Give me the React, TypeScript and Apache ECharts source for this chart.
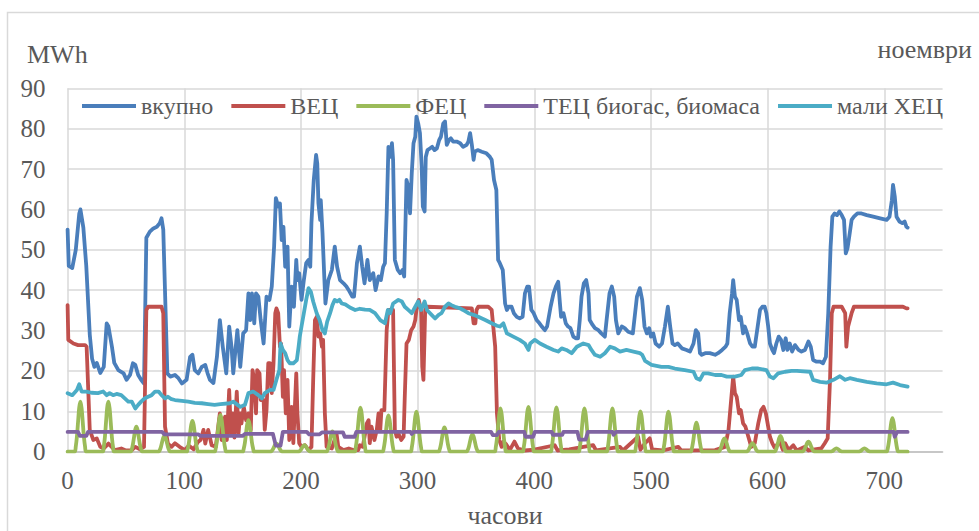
import React, { useEffect, useRef } from "react";
import * as echarts from "echarts";

// Hourly production for November (hour of month, MWh)
const seriesNames = ["вкупно", "ВЕЦ", "ФЕЦ", "ТЕЦ биогас, биомаса", "мали ХЕЦ"];
const seriesColors = ["#4a7ebb", "#c0504d", "#9bbb59", "#8064a2", "#4bacc6"];

const xTicks = [0, 100, 200, 300, 400, 500, 600, 700];
const yTicks = [0, 10, 20, 30, 40, 50, 60, 70, 80, 90];

const total: number[][] = [
  [0, 55], [1, 46], [4, 45.5], [7, 50], [10, 59], [11, 60], [13.5, 55.5], [16, 46], [19, 29], [21, 23],
  [23, 21], [25, 22], [28, 19.5], [31, 21], [33.5, 31.8], [35, 31], [38, 26], [40, 22], [43.5, 20.2],
  [48, 19.4], [50.5, 17.8], [53.5, 19], [56, 21.9], [58, 21.5], [60.5, 19], [63, 17.8], [65.5, 16.9],
  [67.5, 53], [70.5, 54.5], [73.5, 55.3], [76.5, 55.7], [79, 56.6], [80.5, 57.8], [82, 55], [85.5, 19.4],
  [88, 18.6], [92, 19], [95, 18.2], [98, 16.9], [102, 17.8], [105, 23.5], [107, 24], [109, 20.2],
  [112, 19.4], [115, 21], [118, 21.5], [120, 19.4], [122, 17.8], [125, 17], [128, 23.5], [130.5, 32.6],
  [133, 26], [136, 19.4], [138.5, 31], [140.5, 26], [142, 19.4], [145.5, 30.1], [148, 21], [150.5, 29.3],
  [153, 30.1], [155, 39.2], [156.5, 32.6], [158, 39.2], [160, 31.8], [161.5, 39.2], [163.5, 38.4],
  [165.5, 32.6], [168, 26.8], [170.5, 38.4], [173, 37.6], [175, 40.9], [177, 50.8], [178.5, 62.8],
  [180.5, 60.7], [182, 61.5], [183.5, 52.4], [185, 55.7], [186.5, 45.8], [188.5, 50.8], [190, 31],
  [192, 40.9], [194, 35.9], [196, 47.5], [197, 42.5], [198.5, 44.2], [200.5, 37.6], [202.5, 42.5],
  [204.5, 46.7], [206.5, 47.5], [208, 45.8], [209, 56.6], [211, 67.3], [213, 73.5], [214, 71.4],
  [215, 61.5], [216.5, 57.4], [217, 62.3], [218.5, 54.1], [220, 43.4], [221, 36.7], [223.5, 42.5],
  [226.5, 45], [229, 50.8], [231, 45.8], [233.5, 42.5], [236.5, 41.7], [239, 40.9], [241, 40],
  [244, 38.4], [245.5, 38.4], [248, 46.7], [250.5, 50.8], [252.5, 45.8], [254.5, 41.7], [257, 47.5],
  [259, 42.5], [262, 44.2], [264, 40], [266.5, 43.4], [268.5, 42.5], [270.5, 45.8], [272, 46.7],
  [273.5, 59], [275, 75.5], [276.5, 73], [278, 76.4], [279, 72.3], [280.5, 47.5], [283, 45], [285, 44.2],
  [287, 45], [288.5, 43.4], [290.5, 67.3], [292, 65.6], [293.5, 59], [295, 69], [296.5, 76.4], [298, 78],
  [299, 83], [300.5, 81.3], [302, 78.9], [303.5, 70.6], [304.5, 60.7], [306, 59.5], [307, 73],
  [308.5, 74.7], [310.5, 75.1], [312.5, 75.5], [314.5, 74.7], [316.5, 75.1], [318.5, 77.2], [320, 78],
  [322, 81.3], [323.5, 81.8], [325, 76], [327, 77.2], [328.5, 77.6], [330.5, 76.8], [333.5, 76.8],
  [336.5, 76.4], [339, 75.5], [342, 76], [343.5, 76.8], [345, 78.9], [346.5, 76], [348, 72.3],
  [349, 74.3], [351.5, 74.7], [355, 74.3], [359, 73.9], [362, 73], [363.5, 72.3], [365.5, 67.3],
  [367.5, 64.8], [369, 47.5], [370.5, 46.7], [373, 45], [375, 36.7], [376.5, 35.1], [378, 35.9],
  [380.5, 35.9], [382.5, 34.3], [385, 33.4], [387.5, 33], [390, 33.4], [392, 39.2], [394, 40.9],
  [395.5, 40.9], [397.5, 35.1], [399.5, 34.3], [402, 32.6], [404.5, 31.8], [406.5, 31], [409, 30.1],
  [411, 31], [414, 35.9], [416.5, 39.2], [418.5, 40.9], [420.5, 42.1], [422, 36.7], [423, 33.4],
  [425, 34.3], [427, 31.8], [429, 31], [431, 30.6], [433.5, 28.5], [435.5, 28.1], [437.5, 28.1],
  [439, 32.6], [440.5, 38.4], [442.5, 41.7], [444.5, 42.5], [446.5, 39.2], [447.5, 32.6], [450, 31.4],
  [452, 30.6], [455, 30.1], [457.5, 29.3], [460.5, 28.5], [462, 32.6], [464.5, 39.2], [466.5, 40.9],
  [468.5, 38.4], [470, 32.6], [472, 29.3], [475, 31], [477.5, 30.6], [480.5, 29.7], [484.5, 29.3],
  [488, 38.4], [490.5, 40.5], [492.5, 37.6], [494.5, 31], [496.5, 29.3], [498.5, 30.6], [500, 28.5],
  [502, 29.3], [504, 26.8], [507, 26], [509.5, 26.8], [512, 31], [514.5, 35.9], [516.5, 31],
  [518.5, 26.8], [520.5, 26.4], [523, 26.8], [526.5, 25.6], [530.5, 25.2], [533.5, 24.8], [536.5, 26.8],
  [538.5, 30.1], [540.5, 29.3], [542, 24.4], [543.5, 24], [546.5, 24.4], [550.5, 24.4], [555, 24],
  [557.5, 24.4], [561, 25.2], [564, 26], [565.5, 26.8], [567.5, 34.3], [569.5, 39.2], [570.5, 42.5],
  [572, 38.4], [573.5, 37.6], [575.5, 32.6], [577, 33.4], [579, 29.3], [580.5, 31], [582.5, 29.3],
  [585, 26.8], [587, 26], [589, 26], [591.5, 31], [593.5, 35.1], [595.5, 35.9], [597.5, 35.9],
  [599, 34.3], [600.5, 31], [602, 26.8], [604, 25.2], [605.5, 24.4], [607.5, 26.8], [609.5, 28.5],
  [611.5, 27.7], [613.5, 25.2], [615.5, 28.1], [617, 25.2], [619, 26.8], [621, 24.8], [623.5, 26.4],
  [626.5, 25.2], [629, 24.8], [632, 25.2], [635, 27.3], [637, 26], [639, 22.7], [642, 22.3], [645, 22.3],
  [647.5, 21.9], [650, 23.5], [652, 34.3], [654, 50.8], [655.5, 58.2], [657.5, 59], [659.5, 58.6],
  [661.5, 59.5], [663.5, 58.6], [665.5, 57.4], [667, 49.1], [668.5, 50.4], [670, 53.3], [672, 57.4],
  [674, 58.2], [677, 59], [680.5, 59], [685, 58.6], [690.5, 58.2], [696.5, 57.8], [702, 57.4],
  [704.5, 58.2], [706.5, 62.3], [707.5, 66.1], [709, 63.2], [710.5, 58.2], [713, 57], [715.5, 56.6],
  [717.5, 57], [719, 55.7], [720, 55.5],
];

const hydro: number[][] = [
  [0, 36.3], [0.6, 27.7], [5, 26.8], [9, 26.4], [15, 26.4], [16.3, 26], [19, 5.4], [22, 2.9], [25, 3.3],
  [28, 1.2], [31, 0.8], [35, 2], [40.5, 0.4], [46, 0.8], [50, 0.3], [55, 0.4], [58, 1.2], [62, 0.6],
  [65.5, 1.2], [67.5, 35.1], [69, 35.9], [80.5, 35.9], [82, 34.3], [83.5, 6.2], [86, 2], [89, 1.2],
  [92, 2.1], [96, 1.2], [100.5, 0.4], [104, 1.5], [108, 0.6], [112, 2.5], [114, 2.9], [116.5, 5.4],
  [118, 2], [120.5, 5.4], [123.5, 1.6], [127, 1.2], [130.5, 9.5], [132, 2.9], [135, 8.7], [136.5, 2.9],
  [138.5, 15.3], [140, 4.5], [141.5, 9.5], [143, 3.5], [145, 14.9], [146.5, 4.5], [148, 9.5], [149, 7],
  [151, 11.1], [153, 7.8], [155, 9.5], [157, 5.4], [158.5, 20.2], [160, 17.8], [161.5, 9.5],
  [162.5, 20.2], [164.5, 19.4], [165.5, 12.8], [168, 12.8], [169, 5.4], [170.5, 10.3], [172, 21.9],
  [173.5, 21.9], [175, 14.5], [176.5, 21.9], [178, 34.3], [179, 35.5], [180.5, 34.3], [182, 26],
  [183, 26.8], [184.5, 13.6], [185.5, 20.2], [187, 9.5], [188.5, 17.8], [190, 2.9], [192, 11.1],
  [193.5, 2.1], [196, 19.4], [197, 9.5], [198.5, 2.1], [200.5, 1.2], [203.5, 1.6], [206.5, 0.4],
  [209, 1.2], [210.5, 17.8], [212, 32.6], [213.5, 33.4], [215, 28.5], [216.5, 29.3], [218, 26],
  [219, 27.7], [220.5, 9.5], [222, 1.2], [226.5, 0.8], [230.5, 4.5], [232, 1.2], [236.5, 0.4],
  [241, 0.8], [245, 0.4], [249, 0.4], [250.5, 1.6], [253, 1.2], [256.5, 7], [258, 7.8], [259, 2.1],
  [260.5, 6.2], [263, 2.9], [265, 5.4], [266.5, 9.5], [268, 5.4], [269, 10.3], [271.5, 10.3],
  [273.5, 30.1], [275, 35.1], [279, 35.1], [280.5, 5.4], [282, 3.7], [283.5, 4.5], [286, 2.9],
  [288, 3.7], [289, 13.6], [290.5, 26.8], [292.5, 27.7], [294.5, 30.1], [296.5, 31], [298, 32.6],
  [299, 35.1], [301, 37.6], [303, 35.1], [304, 21], [305, 17.8], [306.5, 35.1], [308, 35.9],
  [346.5, 35.5], [348, 31.8], [349.5, 31.8], [350.5, 35.1], [352, 35.9], [360.5, 35.9], [363.5, 35.1],
  [366.5, 26], [368, 9.5], [370, 2.9], [372, 1.2], [373.5, 2.5], [376, 1.8], [379, 0.4], [383, 2.5],
  [386, 0.8], [392, 0.3], [400, 0.5], [417.5, 1.6], [420, 0.3], [430, 0.6], [450.5, 1.6], [453, 0.3],
  [473.5, 1.2], [476, 0.3], [489, 3.7], [491, 0.5], [495, 2.1], [499, 3.3], [501, 0.6], [510, 0.3],
  [523.5, 1.2], [526, 0.3], [555, 0.4], [563.5, 1.2], [566.5, 5.4], [569, 13.6], [570.5, 18.6],
  [572, 14.5], [573.5, 13.6], [575.5, 9.5], [577, 10.3], [579, 7], [581, 6.2], [583.5, 3.7], [586, 1.2],
  [589, 2.1], [592, 7], [594.5, 10.3], [596.5, 11.1], [598.5, 9.5], [600, 7], [602, 3.7], [604, 2.1],
  [606, 1], [610.5, 2.5], [613, 0.5], [615, 2.1], [618, 0.4], [622, 1.6], [625, 0.3], [632, 1.2],
  [635, 0.3], [646, 0.8], [649, 2.1], [651.5, 3.3], [653.5, 17.8], [655, 34.3], [656.5, 35.9],
  [663.5, 35.9], [666.5, 34.3], [667.5, 26], [669, 31], [672, 34.3], [674, 35.9], [696, 35.9],
  [716, 35.9], [719, 35.5], [720, 35.5],
];

// Solar output per day, hours 07–15 of each day
const solarDays: number[][] = [
  [1.3, 3.8, 7.5, 11.0, 12.4, 10.8, 7.3, 3.6, 1.2],
  [1.2, 3.7, 7.6, 11.1, 12.4, 10.8, 7.2, 3.5, 1.1],
  [0.6, 1.9, 3.7, 5.5, 6.2, 5.4, 3.6, 1.8, 0.6],
  [0.4, 1.2, 2.4, 3.5, 4.0, 3.5, 2.4, 1.2, 0.4],
  [0.8, 2.3, 4.6, 6.7, 7.6, 6.7, 4.5, 2.2, 0.7],
  [0.9, 2.7, 5.5, 8.0, 9.1, 8.0, 5.4, 2.7, 0.9],
  [0.8, 2.3, 4.7, 6.9, 7.8, 6.8, 4.6, 2.3, 0.8],
  [0.2, 0.6, 1.2, 1.8, 2.0, 1.8, 1.2, 0.6, 0.2],
  [0.2, 0.5, 1.0, 1.4, 1.6, 1.4, 0.9, 0.5, 0.2],
  [0.5, 1.5, 3.0, 4.4, 5.0, 4.4, 3.0, 1.5, 0.5],
  [1.1, 3.3, 6.5, 9.6, 10.9, 9.6, 6.5, 3.2, 1.1],
  [0.9, 2.7, 5.4, 7.9, 9.0, 7.9, 5.4, 2.7, 0.9],
  [1.0, 3.0, 5.9, 8.7, 9.9, 8.7, 5.9, 3.0, 1.0],
  [0.6, 1.8, 3.6, 5.3, 6.0, 5.3, 3.6, 1.8, 0.6],
  [0.4, 1.3, 2.6, 3.8, 4.3, 3.8, 2.6, 1.3, 0.4],
  [1.1, 3.2, 6.4, 9.4, 10.7, 9.4, 6.4, 3.2, 1.1],
  [1.1, 3.3, 6.7, 9.8, 11.1, 9.8, 6.6, 3.3, 1.1],
  [1.1, 3.3, 6.6, 9.7, 11.0, 9.7, 6.6, 3.3, 1.1],
  [1.1, 3.2, 6.4, 9.4, 10.7, 9.4, 6.4, 3.2, 1.0],
  [1.0, 3.2, 6.4, 9.4, 10.7, 9.4, 6.3, 3.2, 1.1],
  [1.0, 3.0, 6.0, 8.8, 10.0, 8.8, 6.0, 3.0, 1.0],
  [1.0, 3.0, 5.9, 8.7, 9.9, 8.7, 5.9, 2.9, 1.0],
  [0.7, 2.2, 4.3, 6.3, 7.2, 6.3, 4.3, 2.2, 0.7],
  [0.3, 1.0, 2.0, 2.9, 3.3, 2.9, 2.0, 1.0, 0.3],
  [0.2, 0.6, 1.3, 1.8, 2.1, 1.8, 1.3, 0.6, 0.2],
  [0.4, 1.2, 2.3, 3.4, 3.9, 3.4, 2.3, 1.2, 0.4],
  [0.3, 0.8, 1.5, 2.2, 2.5, 2.2, 1.5, 0.8, 0.3],
  [0.1, 0.2, 0.5, 0.7, 0.8, 0.7, 0.5, 0.2, 0.1],
  [0.1, 0.2, 0.5, 0.7, 0.8, 0.7, 0.5, 0.2, 0.1],
  [0.8, 2.5, 5.0, 7.3, 8.3, 7.3, 5.0, 2.5, 0.8],
];
const solarFirstHour = 7;

const biogas: number[][] = [
  [0, 4.9], [9, 4.9], [10.5, 3.9], [16, 3.9], [17.5, 4.9], [81, 4.9], [83, 4.3], [112, 4.3], [114, 3.9],
  [150, 3.9], [152, 4.4], [176, 4.4], [178.5, 1.5], [182.5, 1.5], [184.5, 4.9], [205, 4.9], [207, 4.3],
  [216, 4.3], [218, 4.8], [236, 4.8], [237.5, 3.7], [246, 3.7], [247.5, 4.9], [294, 4.9], [295, 4.4],
  [296.5, 4.9], [363, 4.9], [364.5, 4.1], [368, 4.1], [369.5, 4.9], [391.5, 4.9], [392.5, 3.7],
  [399, 3.7], [400.5, 4.9], [415, 4.9], [416, 4.2], [424, 4.2], [425, 4.9], [437, 4.9], [438.5, 3.0],
  [444, 3.0], [446, 4.9], [467, 4.9], [468, 4.2], [470, 4.9], [708, 4.9], [709, 3.7], [711, 4.9],
  [720, 4.9],
];

const smallHydro: number[][] = [
  [0, 14.5], [4, 14], [8, 15.3], [10, 16.7], [12, 14.9], [16, 14.9], [20.5, 14.6], [26, 14.5],
  [30.5, 14.9], [33.5, 14], [36, 14.5], [39, 14], [42, 14.3], [46, 14], [49, 13.2], [52, 12.4],
  [55, 12.4], [58, 10.7], [60.5, 11.6], [63, 12.4], [66, 13.2], [69, 13.6], [72, 14], [75, 14.9],
  [78, 14.9], [80.5, 14], [83.5, 13.2], [86, 13.6], [89, 13], [92, 12.8], [98, 12.6], [103.5, 12.4],
  [109, 12.1], [115, 12], [120.5, 11.8], [126, 11.6], [131, 11.8], [139, 12], [142, 12.4], [148, 11.1],
  [152, 11.6], [155, 14.5], [159, 14.9], [163.5, 14], [166.5, 13.2], [169, 14.5], [173.5, 15.3],
  [176.5, 15.3], [179, 17.8], [181.5, 20.2], [182.5, 26.8], [184.5, 25.2], [186.5, 24.4], [188.5, 22.7],
  [190.5, 21.9], [193.5, 21.9], [196.5, 22.7], [198, 26], [199, 28.5], [200.5, 31], [202.5, 34.3],
  [204.5, 37.6], [206.5, 40.5], [208.5, 39.6], [210.5, 37.2], [213.5, 34.3], [216, 32.6], [218.5, 30.1],
  [220.5, 29.3], [222.5, 32.2], [225, 34.3], [227, 36.3], [229, 37.6], [231, 37.2], [233, 37.6],
  [235, 36.7], [238, 36.5], [242, 35.7], [246.5, 35.1], [250.5, 35.4], [255, 35.2], [259, 35.1],
  [263.5, 34.3], [268, 32.6], [272, 31.8], [274.5, 35.1], [276.5, 34.3], [279, 36.7], [283.5, 37.6],
  [286.5, 37.2], [289, 35.9], [292, 35.1], [295, 34.3], [298, 35.9], [300.5, 37.2], [303, 35.1],
  [306, 37.2], [308, 35.1], [312, 33.9], [315, 33], [318, 33.9], [320.5, 34.3], [323.5, 35.9],
  [326.5, 36.7], [329, 36.3], [332, 35.9], [336.5, 35.5], [339, 35.1], [343.5, 34.3], [348, 33.9],
  [352, 33.4], [358, 32.6], [363.5, 31.8], [368, 31.2], [370.5, 31], [373.5, 31.8], [376.5, 29.3],
  [382, 28.5], [387.5, 27.7], [392, 26.8], [395, 25.2], [396.5, 26.8], [400.5, 27.7], [405, 26.8],
  [410.5, 26], [416.5, 25.2], [420.5, 24.8], [423.5, 25.6], [427.5, 25.2], [432, 24.4], [436.5, 26],
  [442, 26.8], [446.5, 26.4], [449, 25.2], [452, 24], [456.5, 23.5], [460.5, 24.4], [465, 26],
  [469, 25.6], [473.5, 24.8], [479, 25.2], [485, 24.8], [490.5, 24.4], [492.5, 24], [495, 22.5],
  [500.5, 21.5], [509, 21], [515, 21], [520.5, 20.6], [529, 20.2], [536.5, 19.8], [539, 18.2],
  [542, 17.8], [545, 19.4], [549, 19.4], [555, 19], [560.5, 19], [565, 18.6], [572, 18.6], [577.5, 19],
  [580.5, 20.2], [586.5, 20.6], [592, 20.6], [599, 20.2], [602, 18.6], [605, 18.2], [609, 19.4],
  [615, 19.8], [620.5, 20], [625, 20], [636.5, 19.8], [639, 17.8], [645, 17.3], [650.5, 17.1],
  [656.5, 17.8], [662, 18.7], [666.5, 17.8], [670.5, 18.2], [676.5, 17.8], [685, 17.3], [693.5, 16.9],
  [702, 16.7], [707.5, 17.1], [713.5, 16.5], [720, 16.1],
];

const FONT = "'Liberation Serif', 'DejaVu Serif', serif";
const TEXT = "#595959";
const GRID = "#d9d9d9";

function solarPoints(): number[][] {
  const pts: number[][] = [[0, 0]];
  solarDays.forEach((vals, d) => {
    const start = d * 24 + solarFirstHour;
    pts.push([start - 1, 0]);
    vals.forEach((v, i) => pts.push([start + i, v]));
    pts.push([start + vals.length, 0]);
  });
  pts.push([720, 0]);
  return pts;
}

export default function App() {
  const ref = useRef<HTMLDivElement>(null);

  useEffect(() => {
    if (!ref.current) return;
    const chart = echarts.init(ref.current, undefined, { renderer: "svg" });
    const data = [total, hydro, solarPoints(), biogas, smallHydro];

    chart.setOption({
      animation: false,
      backgroundColor: "#ffffff",
      textStyle: { fontFamily: FONT, color: TEXT },
      grid: {
        left: 67.6,
        top: 88.3,
        right: 36.4,
        bottom: 79.3,
        containLabel: false,
        outerBoundsMode: "none",
      },
      legend: {
        left: 82,
        top: 94,
        padding: 0,
        itemGap: 18,
        itemWidth: 54,
        itemHeight: 4,
        icon: "rect",
        textStyle: { fontFamily: FONT, fontSize: 24, color: TEXT },
        data: seriesNames,
      },
      xAxis: {
        type: "value",
        min: 0,
        max: 750,
        interval: 100,
        name: "часови",
        nameLocation: "middle",
        nameGap: 51,
        nameTextStyle: { fontFamily: FONT, fontSize: 26, color: TEXT },
        axisLine: { show: true, lineStyle: { color: "#bfbfbf", width: 1.5 } },
        axisTick: { show: false },
        axisLabel: {
          margin: 16,
          fontFamily: FONT,
          fontSize: 25,
          color: TEXT,
          showMaxLabel: false,
          formatter: (v: number) => (xTicks.includes(v) ? String(v) : ""),
        },
        splitLine: {
          show: true,
          lineStyle: {
            color: [GRID, GRID, GRID, GRID, GRID, GRID, GRID, GRID, "rgba(0,0,0,0)"],
            width: 1.5,
          },
        },
      },
      yAxis: {
        type: "value",
        min: 0,
        max: 90,
        interval: 10,
        axisLine: { show: false },
        axisTick: { show: false },
        axisLabel: {
          margin: 22,
          fontFamily: FONT,
          fontSize: 25,
          color: TEXT,
          formatter: (v: number) => (yTicks.includes(v) ? String(v) : ""),
        },
        splitLine: { show: true, lineStyle: { color: GRID, width: 1.5 } },
      },
      graphic: [
        {
          type: "rect",
          silent: true,
          shape: { x: 7.5, y: 12.5, width: 1000, height: 600 },
          style: { fill: "none", stroke: GRID, lineWidth: 1.5 },
          z: -10,
        },
        {
          type: "text",
          x: 27,
          y: 54,
          style: { text: "MWh", fontFamily: FONT, fontSize: 26, fill: TEXT, verticalAlign: "middle" },
        },
        {
          type: "text",
          x: 972,
          y: 49,
          style: {
            text: "ноември",
            fontFamily: FONT,
            fontSize: 26,
            fill: TEXT,
            align: "right",
            verticalAlign: "middle",
          },
        },
      ],
      series: seriesNames.map((name, i) => ({
        name,
        type: "line",
        data: data[i],
        symbol: "none",
        smooth: i === 2 ? 0.3 : false,
        lineStyle: { color: seriesColors[i], width: 3.8, cap: "round", join: "round" },
        itemStyle: { color: seriesColors[i] },
      })),
    });

    return () => chart.dispose();
  }, []);

  return (
    <div
      ref={ref}
      style={{ position: "fixed", left: 0, top: 0, width: 979, height: 531, background: "#fff" }}
    />
  );
}
